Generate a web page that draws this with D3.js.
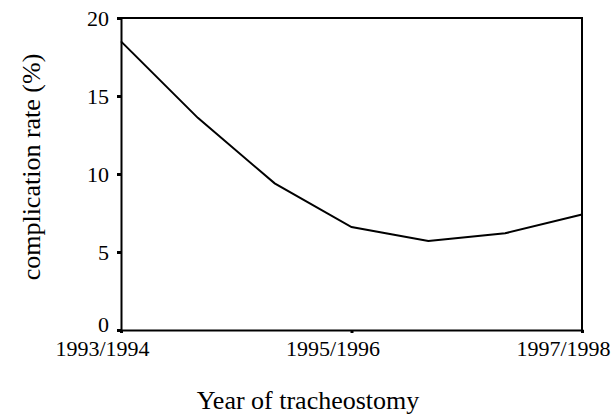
<!DOCTYPE html>
<html>
<head>
<meta charset="utf-8">
<script src="https://cdn.jsdelivr.net/npm/d3@7"></script>
<style>
  body { margin: 0; background: #fff; }
  text { font-family: "Liberation Serif", "Times New Roman", serif; fill: #000; }
</style>
</head>
<body>
<div id="chart"></div>
<script>
// data
const periods = [0, 1, 2, 3, 4, 5, 6];
const rates = [18.5, 13.6, 9.4, 6.6, 5.7, 6.2, 7.4];
const xTickValues = [0, 3, 6];
const xTickLabels = ["1993/1994", "1995/1996", "1997/1998"];
const yTickValues = [0, 5, 10, 15, 20];

const width = 615, height = 417;
const margin = {top: 18, right: 33, bottom: 87, left: 121};

const svg = d3.select("#chart").append("svg")
    .attr("width", width)
    .attr("height", height);

const x = d3.scaleLinear()
    .domain([0, 6])
    .range([margin.left, width - margin.right]);

const y = d3.scaleLinear()
    .domain([0, 20])
    .range([height - margin.bottom, margin.top]);

// frame (top and right)
svg.append("path")
    .attr("d", `M${x(0)},${y(20)}H${x(6)}V${y(0)}`)
    .attr("fill", "none")
    .attr("stroke", "#000")
    .attr("stroke-width", 2);

const yAxis = svg.append("g")
    .attr("transform", `translate(${x(0)},0)`)
    .call(d3.axisLeft(y).tickValues(yTickValues).tickSize(4).tickPadding(8));

const xAxis = svg.append("g")
    .attr("transform", `translate(0,${y(0)})`)
    .call(d3.axisBottom(x).tickValues(xTickValues)
        .tickFormat((d, i) => xTickLabels[i]).tickSize(3).tickPadding(7));

[yAxis, xAxis].forEach(g => {
    g.attr("font-size", null);
    g.select(".domain").attr("stroke-width", 2);
    g.selectAll(".tick line").attr("stroke-width", 3);
    g.selectAll("text").style("font-size", "22px").attr("fill", "#000");
});
// the zero label sits a bit above its tick, the year labels a little left of theirs
yAxis.selectAll(".tick text").filter(d => d === 0).attr("dy", "0.05em");
xAxis.selectAll(".tick text").attr("dx", -19);

const line = d3.line()
    .x((d, i) => x(periods[i]))
    .y(d => y(d));

svg.append("path")
    .datum(rates)
    .attr("d", line)
    .attr("fill", "none")
    .attr("stroke", "#000")
    .attr("stroke-width", 2);

svg.append("text")
    .attr("x", 308)
    .attr("y", 409)
    .attr("text-anchor", "middle")
    .style("font-size", "26px")
    .text("Year of tracheostomy");

svg.append("text")
    .attr("transform", "translate(40,167) rotate(-90)")
    .attr("text-anchor", "middle")
    .style("font-size", "26px")
    .text("complication rate (%)");
</script>
</body>
</html>
